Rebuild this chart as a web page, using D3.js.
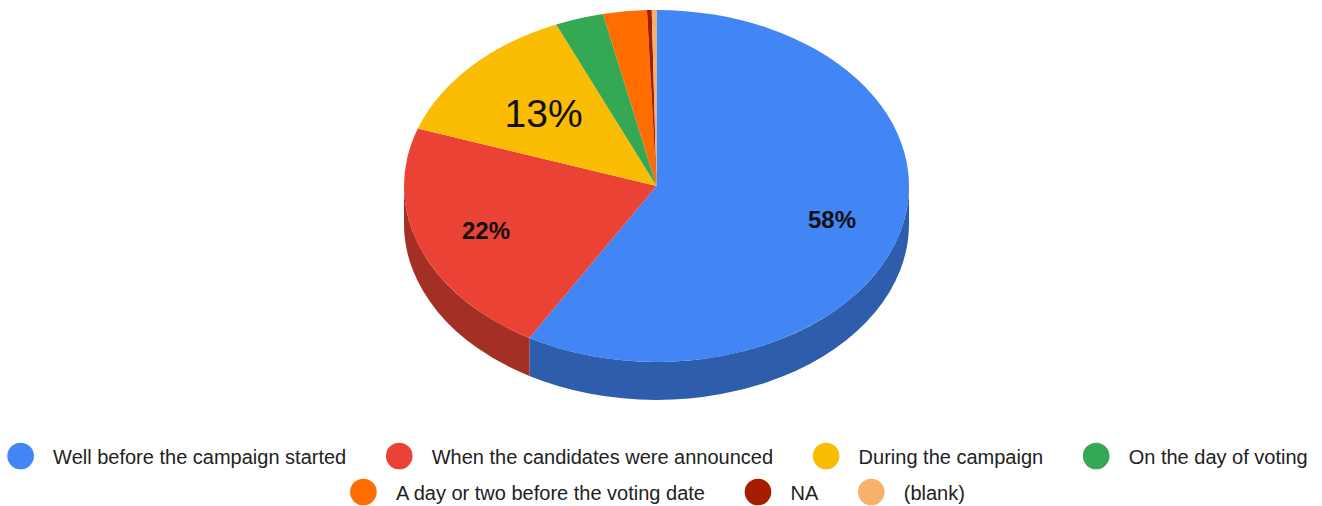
<!DOCTYPE html>
<html>
<head>
<meta charset="utf-8">
<script src="https://cdn.jsdelivr.net/npm/d3@7"></script>
<style>
  html, body { margin: 0; padding: 0; background: #fff; }
  svg { display: block; font-family: Arial, "Liberation Sans", sans-serif; }
</style>
</head>
<body>
<svg id="chart" width="1322" height="506"></svg>
<script>
// Survey answers: when the respondent decided whom to vote for
const categories = [
  "Well before the campaign started",
  "When the candidates were announced",
  "During the campaign",
  "On the day of voting",
  "A day or two before the voting date",
  "NA",
  "(blank)"
];
const shares = [58.4, 21.9, 13.2, 3.1, 2.8, 0.3, 0.3];
const sliceLabels = ["58%", "22%", "13%", "", "", "", ""];
const colors = ["#4285f4", "#ea4335", "#fbbc04", "#34a853", "#ff6d01", "#a61c00", "#f6b26b"];
const labelSizes = [24, 24, 39, 0, 0, 0, 0];

const svg = d3.select("#chart");

// Tilted pie geometry
const cx = 656.5, cy = 186, rx = 252.5, ry = 176, depth = 38;

const slices = d3.pie().sort(null).value(d => d)(shares);

// Point on the ellipse at angle a (0 = top, clockwise), dropped by yoff
const pt = (a, yoff = 0) => [cx + rx * Math.sin(a), cy - ry * Math.cos(a) + yoff];

// Outer walls: only the front half (angles between PI/2 and 3PI/2) is seen
const sideG = svg.append("g");
slices.forEach((s, i) => {
  const a0 = Math.max(s.startAngle, Math.PI / 2);
  const a1 = Math.min(s.endAngle, 3 * Math.PI / 2);
  if (a1 <= a0) return;
  const p0 = pt(a0), p1 = pt(a1), q1 = pt(a1, depth), q0 = pt(a0, depth);
  const d = `M${p0}A${rx},${ry} 0 0 1 ${p1}L${q1}A${rx},${ry} 0 0 0 ${q0}Z`;
  sideG.append("path")
    .attr("d", d)
    .attr("fill", d3.color(colors[i]).darker(1).formatHex());
});

// Top face: circular arcs squashed vertically into the ellipse
const arc = d3.arc().innerRadius(0).outerRadius(rx);
svg.append("g")
  .attr("transform", `translate(${cx},${cy}) scale(1,${ry / rx})`)
  .selectAll("path")
  .data(slices)
  .join("path")
  .attr("d", arc)
  .attr("fill", (d, i) => colors[i]);

// Percentage labels inside the larger slices
slices.forEach((s, i) => {
  if (!sliceLabels[i]) return;
  const mid = (s.startAngle + s.endAngle) / 2;
  const big = labelSizes[i] > 30;
  const f = big ? 0.61 : 0.72;
  const [x, y] = pt(mid);
  const lx = cx + (x - cx) * f, ly = cy + (y - cy) * f;
  svg.append("text")
    .attr("x", lx)
    .attr("y", ly)
    .attr("text-anchor", "middle")
    .attr("dominant-baseline", "central")
    .attr("font-size", labelSizes[i])
    .attr("font-weight", big ? "normal" : "bold")
    .attr("fill", "#111")
    .text(sliceLabels[i]);
});

// Legend: two centred rows of dot + label
const legendRows = [[0, 1, 2, 3], [4, 5, 6]];
const rowY = [456, 492];
const dotR = 13.3, textGap = 32.5, itemGap = 53, centerX = 657.5;
const legend = svg.append("g");
legendRows.forEach((row, r) => {
  const g = legend.append("g");
  let x = 0;
  row.forEach((idx, k) => {
    const t = g.append("text")
      .attr("font-size", 20)
      .attr("fill", "#222")
      .attr("y", rowY[r] + 7.5)
      .text(categories[idx]);
    const w = t.node().getComputedTextLength();
    const dotX = k === 0 ? dotR : x + itemGap;
    t.attr("x", dotX + textGap);
    g.append("ellipse")
      .attr("cx", dotX).attr("cy", rowY[r])
      .attr("rx", dotR).attr("ry", dotR)
      .attr("fill", colors[idx]);
    x = dotX + textGap + w;
  });
  g.attr("transform", `translate(${centerX - x / 2},0)`);
});
</script>
</body>
</html>
